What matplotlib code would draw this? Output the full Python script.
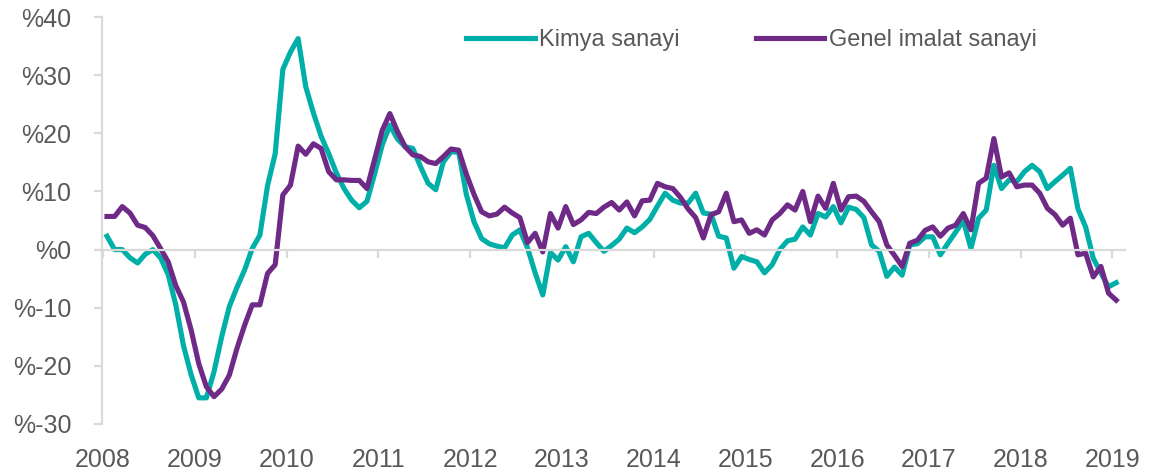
import matplotlib.pyplot as plt
from matplotlib.ticker import FixedLocator

# monthly YoY change, Jan 2008 - Jan 2019
kimya = [2.3, 0, 0, -1.4, -2.3, -0.8, 0, -1.4, -4.3, -9.5, -16.5, -21.5,
         -25.5, -25.5, -21, -15, -9.8, -6.5, -3.5, 0.2, 2.5, 11, 16.5, 31,
         34, 36.3, 28, 23.5, 19.5, 16.5, 13.2, 10.5, 8.5, 7.2, 8.3, 13,
         18, 21.4, 19, 17.7, 17.4, 14.3, 11.4, 10.3, 15.1, 16.8, 16.8, 9.5,
         4.8, 1.9, 1, 0.6, 0.3, 2.5, 3.4, 0.3, -4, -7.8, -0.5, -1.8,
         0.5, -2.1, 2.2, 2.8, 1.2, -0.3, 0.7, 1.8, 3.7, 2.9, 3.9, 5.2,
         7.5, 9.7, 8.5, 8, 8, 9.7, 6.3, 6.1, 2.3, 2, -3.2, -1.2,
         -1.7, -2.1, -4, -2.6, 0, 1.5, 1.8, 3.9, 2.5, 6.2, 5.6, 7.4,
         4.6, 7.3, 6.9, 5.5, 0.8, -0.3, -4.6, -3, -4.4, 0.8, 1, 2.2,
         2.2, -0.9, 1.1, 3, 5, 0.2, 5.4, 6.8, 14.5, 10.5, 12, 11.7,
         13.4, 14.5, 13.4, 10.5, 11.7, 12.8, 14, 7, 3.9, -1.5, -4, -6.4,
         -5.7]
genel = [5.7, 5.7, 7.4, 6.3, 4.2, 3.8, 2.4, 0.2, -2.1, -6.2, -9, -13.8,
         -19.6, -23.6, -25.3, -24, -21.6, -17, -13, -9.5, -9.5, -4.1, -2.6, 9.4,
         11.1, 17.8, 16.4, 18.2, 17.4, 13.4, 12, 12, 11.9, 11.9, 10.5, 15.5,
         20.5, 23.4, 20.3, 17.7, 16.3, 16, 15.1, 14.8, 16, 17.3, 17.1, 13,
         9.5, 6.5, 5.8, 6.1, 7.3, 6.3, 5.5, 1.2, 2.8, -0.4, 6.2, 3.7,
         7.4, 4.3, 5.1, 6.4, 6.2, 7.3, 8.1, 6.8, 8.2, 5.8, 8.4, 8.5,
         11.4, 10.8, 10.5, 9, 7, 5.5, 2, 6, 6.5, 9.7, 4.8, 5.1,
         2.8, 3.4, 2.5, 5.1, 6.2, 7.7, 6.8, 10, 4.8, 9.2, 7.1, 11.4,
         6.8, 9.1, 9.2, 8.3, 6.5, 4.8, 0.8, -1, -2.9, 1.1, 1.6, 3.3,
         3.9, 2.3, 3.7, 4.2, 6.2, 3.4, 11.4, 12.3, 19.1, 12.5, 13.2, 10.8,
         11.1, 11.1, 9.7, 7.1, 6, 4.2, 5.4, -0.9, -0.6, -4.7, -2.9, -7.5,
         -8.7]
years = list(range(2008, 2020))
yticks = [-30, -20, -10, 0, 10, 20, 30, 40]

teal = '#00AFA7'
purple = '#6E2A86'
grey = '#D9D9D9'
txt = '#595959'

plt.rcParams['font.family'] = ['Liberation Sans', 'DejaVu Sans']

fig = plt.figure(figsize=(11.66, 4.74), dpi=100)
ax = fig.add_axes([0.0875, 0.1055, 0.877, 0.8585])

months = list(range(len(kimya)))
ax.plot(months, kimya, color=teal, lw=3.7, label='Kimya sanayi', solid_joinstyle='round')
ax.plot(months, genel, color=purple, lw=3.7, label='Genel imalat sanayi', solid_joinstyle='round')

ax.set_xlim(-0.65, 133.1)
ax.set_ylim(-30, 40)

for s in ['top', 'right']:
    ax.spines[s].set_visible(False)
ax.spines['left'].set_color(grey)
ax.spines['left'].set_linewidth(1.6)
ax.spines['bottom'].set_position(('data', 0))
ax.spines['bottom'].set_color(grey)
ax.spines['bottom'].set_linewidth(1.6)

ax.yaxis.set_major_locator(FixedLocator(yticks))
ax.set_yticklabels(['%' + str(v) for v in yticks])
xt = [12 * i - 0.5 for i in range(len(years))]
ax.set_xticks(xt)
ax.set_xticklabels([str(y) for y in years])
ax.tick_params(axis='y', direction='out', length=6, width=1.6, color=grey,
               labelsize=18, labelcolor=txt, pad=16)
ax.tick_params(axis='x', direction='out', length=6, width=1.6, color=grey,
               labelsize=18, labelcolor=txt, pad=137)

ax.legend(loc='center', bbox_to_anchor=(0.635, 0.943), ncol=2, frameon=False,
          fontsize=17, labelcolor=txt, handlelength=2.9, handletextpad=0.2,
          columnspacing=3.2, borderaxespad=0)

fig.savefig('out.png', dpi=100)
